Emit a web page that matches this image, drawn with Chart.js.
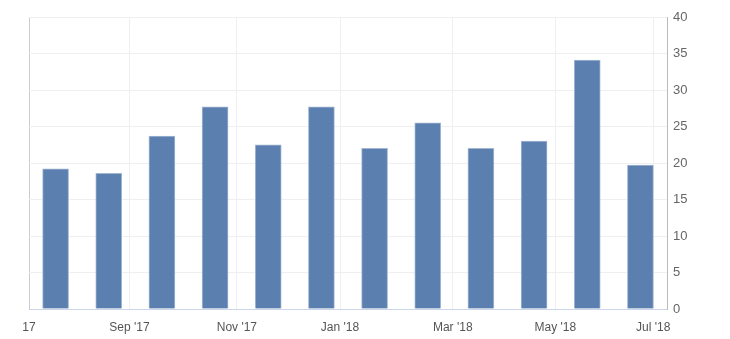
<!DOCTYPE html>
<html>
<head>
<meta charset="utf-8">
<script src="https://cdn.jsdelivr.net/npm/chart.js@4/dist/chart.umd.min.js"></script>
<style>
  html, body { margin: 0; padding: 0; background: #fff; }
  canvas { display: block; }
</style>
</head>
<body>
<canvas id="barChart" width="730" height="339"></canvas>
<script>
// months shown as bars, Jul 2017 .. Jun 2018
const months = ["Jul 2017", "Aug 2017", "Sep 2017", "Oct 2017", "Nov 2017", "Dec 2017",
    "Jan 2018", "Feb 2018", "Mar 2018", "Apr 2018", "May 2018", "Jun 2018"];

const values = [19.2, 18.6, 23.7, 27.7, 22.5, 27.7, 22.0, 25.5, 22.0, 23.0, 34.1, 19.7];

// x axis labels and where they sit, in month-index units
const tickLabels = ["17", "Sep '17", "Nov '17", "Jan '18", "Mar '18", "May '18", "Jul '18"];
const tickAt = [-0.5, 1.39, 3.41, 5.35, 7.47, 9.40, 11.24];

const yTicks = [0, 5, 10, 15, 20, 25, 30, 35, 40];

const data = {
    datasets: [
        {
            label: "Value",
            data: values.map((v, i) => ({ x: i, y: v })),
            backgroundColor: "#5b7fae",
            borderColor: "#a3b7d3",
            borderWidth: 1,
            barThickness: 26,
        },
    ],
};

const config = {
    type: "bar",
    data: data,
    options: {
        responsive: false,
        animation: false,
        layout: {
            padding: { left: 29, top: 17, right: 0, bottom: 0 }
        },
        plugins: {
            legend: { display: false },
            tooltip: { enabled: false }
        },
        scales: {
            x: {
                type: "linear",
                offset: false,
                min: -0.5,
                max: 11.5,
                afterBuildTicks: (scale) => {
                    scale.ticks = tickAt.map(v => ({ value: v }));
                },
                afterFit: (scale) => { scale.height = 30; },
                ticks: {
                    autoSkip: false,
                    maxRotation: 0,
                    padding: 11,
                    color: "#555",
                    font: { family: "Liberation Sans", size: 12 },
                    callback: (v, i) => tickLabels[i]
                },
                grid: {
                    offset: false,
                    drawTicks: false,
                    color: (ctx) => ctx.index === 0 ? "#cccccc" : "#efefef",
                    lineWidth: 1
                },
                border: { color: "#ccd6eb" }
            },
            y: {
                position: "right",
                min: 0,
                max: 40,
                afterBuildTicks: (scale) => {
                    scale.ticks = yTicks.map(v => ({ value: v }));
                },
                afterFit: (scale) => { scale.width = 63; },
                ticks: {
                    padding: 6,
                    color: "#666",
                    font: { family: "Liberation Sans", size: 13 }
                },
                grid: {
                    drawTicks: false,
                    color: "#efefef"
                },
                border: { color: "#bbbbbb" }
            }
        }
    },
};

let myChart = new Chart(document.getElementById("barChart"), config);
</script>
</body>
</html>
